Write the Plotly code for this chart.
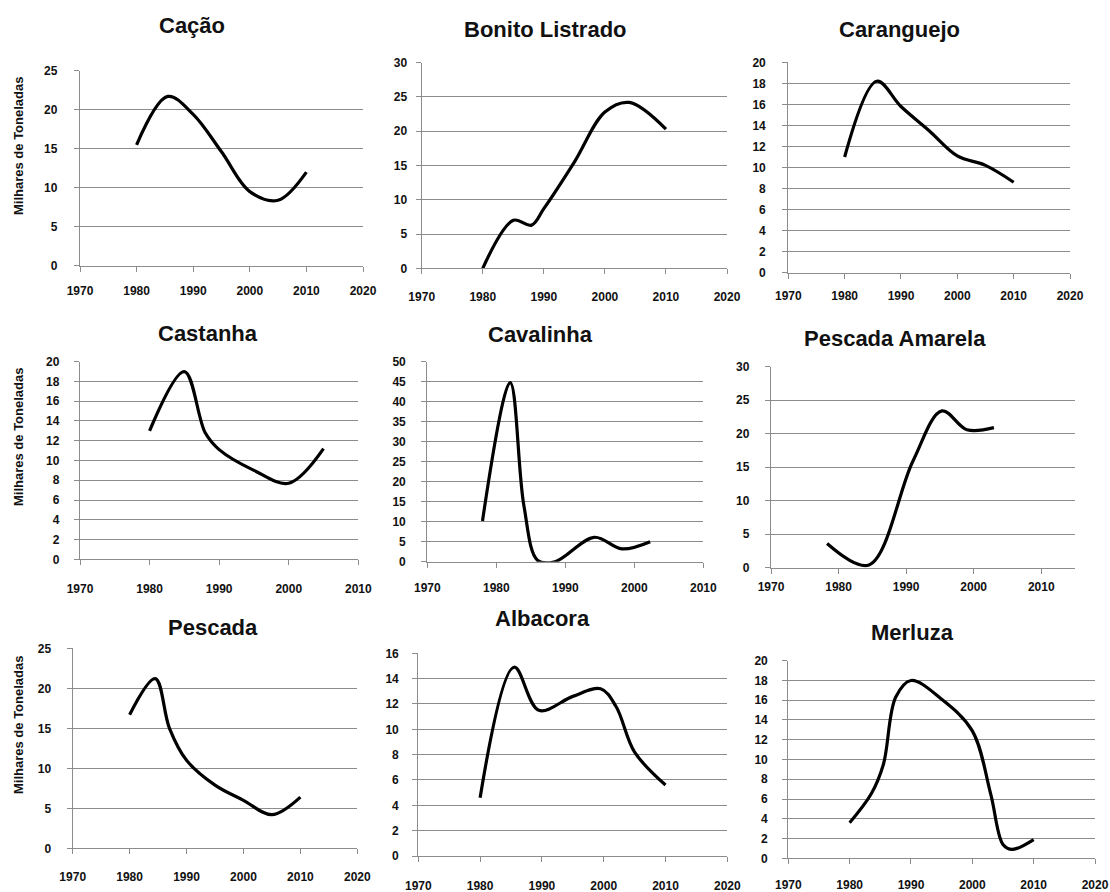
import plotly.graph_objects as go

W, H = 1110, 892
FONT = "Liberation Sans, Arial, sans-serif"
GRID = "#8c8c8c"

# ---------------- data ----------------
titles = ["Cação", "Bonito Listrado", "Caranguejo", "Castanha", "Cavalinha",
          "Pescada Amarela", "Pescada", "Albacora", "Merluza"]

cacao_years = [1980, 1985.5, 1990, 1995, 2000, 2005, 2010]
cacao_vals = [15.5, 21.7, 19.4, 14.6, 9.5, 8.4, 12.0]

bonito_years = [1980, 1985, 1988, 1990, 1995, 2000, 2004, 2010]
bonito_vals = [0.0, 7.0, 6.3, 8.7, 15.5, 22.8, 24.2, 20.3]

carang_years = [1980, 1985.7, 1990, 1995, 2000, 2005, 2010]
carang_vals = [11.0, 18.2, 15.8, 13.5, 11.1, 10.2, 8.6]

castanha_years = [1980, 1985, 1988, 1990, 1995, 2000, 2005]
castanha_vals = [13.0, 19.0, 12.8, 11.1, 9.0, 7.7, 11.2]

cavalinha_years = [1978, 1982, 1984, 1986, 1988.5, 1994.2, 1998.2, 2002.3]
cavalinha_vals = [10.2, 44.8, 14.0, 0.3, 0.0, 6.1, 3.2, 5.0]

pamarela_years = [1978.3, 1984.5, 1991, 1995.3, 1999, 2003]
pamarela_vals = [3.6, 0.4, 15.9, 23.4, 20.6, 20.9]

pescada_years = [1980, 1984.5, 1987, 1990, 1995, 2000, 2005, 2010]
pescada_vals = [16.7, 21.2, 15.0, 11.0, 7.9, 6.0, 4.2, 6.4]

albacora_years = [1980, 1985.5, 1989.5, 1995, 1999.5, 2002, 2005, 2010]
albacora_vals = [4.6, 14.9, 11.5, 12.6, 13.2, 11.8, 8.2, 5.6]

merluza_years = [1980, 1983.5, 1985.5, 1987.5, 1990, 1995, 2000, 2003, 2005, 2006.5, 2010]
merluza_vals = [3.6, 6.5, 9.5, 16.3, 18.0, 16.1, 12.9, 6.5, 1.4, 0.9, 1.9]

series = [(cacao_years, cacao_vals), (bonito_years, bonito_vals),
          (carang_years, carang_vals), (castanha_years, castanha_vals),
          (cavalinha_years, cavalinha_vals), (pamarela_years, pamarela_vals),
          (pescada_years, pescada_vals), (albacora_years, albacora_vals),
          (merluza_years, merluza_vals)]

x_ranges = [[1970, 2020], [1970, 2020], [1970, 2020], [1970, 2010], [1970, 2010],
            [1970, 2015], [1970, 2020], [1970, 2020], [1970, 2020]]
x_ticks = [list(range(1970, 2021, 10))] * 3 + [list(range(1970, 2011, 10))] * 3 \
          + [list(range(1970, 2021, 10))] * 3
y_max = [25, 30, 20, 20, 50, 30, 25, 16, 20]
y_step = [5, 5, 2, 2, 5, 5, 5, 2, 2]
y_title_text = "Milhares de Toneladas"

# ---------------- layout geometry (pixels) ----------------
# left, right, top, bottom of each plot area
boxes = [(80, 363, 70.7, 265.7), (421.7, 727, 62.7, 268.3), (788.3, 1070, 62.3, 272.7),
         (80, 358.3, 361.7, 559.3), (427.3, 703.3, 361.7, 561.7), (771, 1075, 366.7, 567.7),
         (72.7, 357.3, 648.3, 848.3), (418.3, 727.3, 653.3, 856), (788.3, 1095, 660.7, 858.3)]
title_pos = [(192, 26), (545, 30), (899, 30), (208, 333), (540, 335), (895, 339),
             (213, 627), (542, 618), (912, 632)]
ylab_gap = [20, 12, 20, 18, 19, 19, 19, 17, 18]
xlab_gap = [27, 30, 25, 31, 28, 21, 30, 31, 28]
ytitle_pos = [(18, 146), (18, 437), (18, 725)]

fig = go.Figure()
layout = dict(width=W, height=H, margin=dict(l=0, r=0, t=0, b=0, pad=0, autoexpand=False),
              paper_bgcolor="white", plot_bgcolor="white", showlegend=False,
              font=dict(family=FONT, color="#111111", size=13))
annotations = []

TL = 5
for i in range(9):
    k = "" if i == 0 else str(i + 1)
    l, r, t, b = boxes[i]
    xs, ys = series[i]
    fig.add_trace(go.Scatter(x=xs, y=ys, mode="lines", xaxis="x" + k, yaxis="y" + k,
                             line=dict(color="black", width=3.2, shape="spline", smoothing=1.0),
                             hoverinfo="skip"))
    layout["xaxis" + k] = dict(domain=[l / W, r / W], range=x_ranges[i], anchor="y" + k,
                               tickvals=x_ticks[i], showgrid=False, zeroline=False,
                               showline=True, linecolor=GRID, linewidth=1.3, automargin=False,
                               ticks="outside", ticklen=TL, tickcolor=GRID, tickwidth=1.3,
                               ticklabelstandoff=max(0, xlab_gap[i] - TL - 13),
                               tickfont=dict(size=12, family=FONT, color="#111111", weight="bold"))
    layout["yaxis" + k] = dict(domain=[1 - b / H, 1 - t / H], range=[0, y_max[i]],
                               anchor="x" + k, dtick=y_step[i], tick0=0, automargin=False,
                               showgrid=True, gridcolor=GRID, gridwidth=1.3, zeroline=False,
                               showline=True, linecolor=GRID, linewidth=1.3,
                               ticks="outside", ticklen=TL, tickcolor=GRID, tickwidth=1.3,
                               ticklabelstandoff=max(0, ylab_gap[i] - TL - 1),
                               tickfont=dict(size=12, family=FONT, color="#111111", weight="bold"))
    cx, cy = title_pos[i]
    annotations.append(dict(text="<b>" + titles[i] + "</b>", x=cx / W, y=1 - cy / H,
                            xref="paper", yref="paper", xanchor="center", yanchor="middle",
                            showarrow=False, font=dict(size=22, family=FONT, color="#111111")))

for (px, py) in ytitle_pos:
    annotations.append(dict(text="<b>" + y_title_text + "</b>", x=px / W, y=1 - py / H,
                            xref="paper", yref="paper", xanchor="center", yanchor="middle",
                            textangle=-90, showarrow=False,
                            font=dict(size=13, family=FONT, color="#111111")))

layout["annotations"] = annotations
fig.update_layout(**layout)
fig.write_html("out.html", config={"displayModeBar": False},
               post_script="document.body.style.margin='0';"
                           "document.body.style.overflow='hidden';")
